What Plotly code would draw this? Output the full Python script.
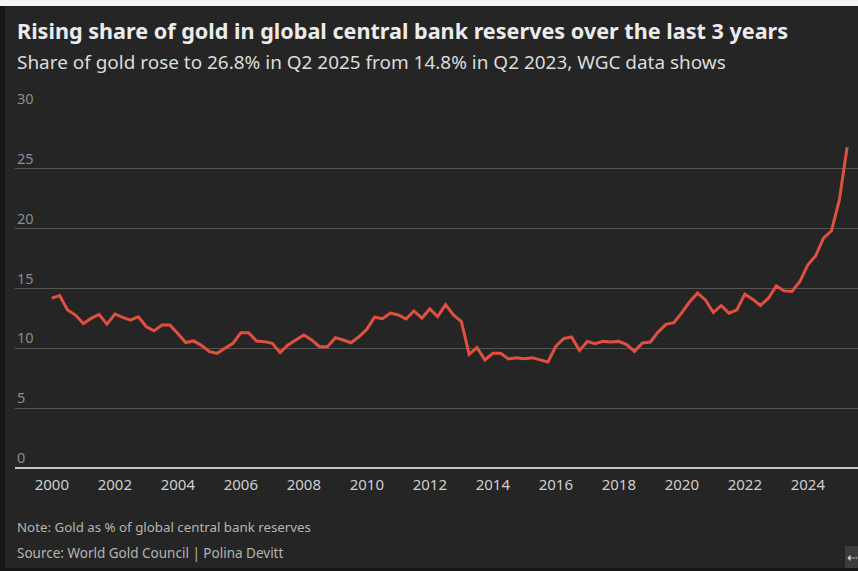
import pandas as pd
import plotly.graph_objects as go

# Gold as % of global central bank reserves, quarterly Q1 2000 .. Q2 2025
gold_share = [
    14.19, 14.41, 13.2, 12.78, 12.08, 12.5, 12.84, 12.02, 12.87, 12.58,
    12.36, 12.64, 11.8, 11.46, 11.94, 11.94, 11.24, 10.48, 10.62, 10.25,
    9.73, 9.58, 10.0, 10.42, 11.31, 11.31, 10.61, 10.56, 10.42, 9.64,
    10.28, 10.7, 11.11, 10.7, 10.14, 10.14, 10.89, 10.7, 10.47, 10.97,
    11.6, 12.6, 12.48, 12.95, 12.79, 12.45, 13.12, 12.53, 13.29, 12.65,
    13.65, 12.79, 12.23, 9.5, 10.06, 9.03, 9.58, 9.58, 9.11, 9.22,
    9.13, 9.22, 9.05, 8.86, 10.17, 10.81, 10.95, 9.83, 10.58, 10.39,
    10.58, 10.53, 10.58, 10.31, 9.75, 10.45, 10.53, 11.36, 12.0, 12.14,
    12.98, 13.89, 14.61, 14.05, 12.99, 13.58, 12.94, 13.22, 14.53, 14.11,
    13.58, 14.19, 15.22, 14.8, 14.75, 15.58, 16.98, 17.73, 19.21, 19.82,
    22.41, 26.8,
]
quarters = pd.date_range("2000-01-01", periods=len(gold_share), freq="QS")
x_tick_years = list(range(2000, 2025, 2))
y_ticks = [0, 5, 10, 15, 20, 25, 30]

title = "Rising share of gold in global central bank reserves over the last 3 years"
subtitle = "Share of gold rose to 26.8% in Q2 2025 from 14.8% in Q2 2023, WGC data shows"
note = "Note: Gold as % of global central bank reserves"
source = "Source: World Gold Council | Polina Devitt"

W, H = 858, 571
TOP, BOT, LEFT = 109, 468, 15
FONT = "Noto Sans"


def py(Y):
    return (BOT - Y) / (BOT - TOP)


fig = go.Figure()
fig.add_trace(go.Scatter(
    x=quarters, y=gold_share, mode="lines",
    line=dict(color="#e0503f", width=3), hoverinfo="skip",
))

annotations = []
for v in y_ticks:
    annotations.append(dict(
        xref="paper", yref="y", x=0, y=v, xanchor="left", yanchor="bottom",
        text=str(v), showarrow=False, yshift=-1,
        font=dict(family=FONT, size=14.5, color="#8c8c8c"),
    ))
annotations += [
    dict(xref="paper", yref="paper", x=0, y=py(30), xanchor="left", yanchor="middle",
         text="<b>" + title + "</b>", showarrow=False,
         font=dict(family=FONT, size=21.6, color="#ececec")),
    dict(xref="paper", yref="paper", x=0, y=py(62), xanchor="left", yanchor="middle",
         text=subtitle, showarrow=False,
         font=dict(family=FONT, size=18.95, color="#dcdcdc")),
    dict(xref="paper", yref="paper", x=0, y=py(527), xanchor="left", yanchor="middle",
         text=note, showarrow=False,
         font=dict(family=FONT, size=13.3, color="#b4b4b4")),
    dict(xref="paper", yref="paper", x=0, y=py(553), xanchor="left", yanchor="middle",
         text=source, showarrow=False,
         font=dict(family=FONT, size=13.5, color="#b4b4b4")),
    dict(xref="paper", yref="paper", x=(852 - LEFT) / (W - LEFT), y=py(557),
         xanchor="center", yanchor="middle", text="⇠", showarrow=False,
         font=dict(family=FONT, size=13, color="#dddddd")),
]

shapes = [
    dict(type="rect", xref="paper", yref="paper", x0=-LEFT / (W - LEFT), x1=(5 - LEFT) / (W - LEFT),
         y0=py(H), y1=py(0), fillcolor="#161616", line=dict(width=0), layer="below"),
    dict(type="rect", xref="paper", yref="paper", x0=-LEFT / (W - LEFT), x1=1,
         y0=py(6), y1=py(0), fillcolor="#f4f4f4", line=dict(width=0), layer="above"),
    dict(type="rect", xref="paper", yref="paper", x0=-LEFT / (W - LEFT), x1=1,
         y0=py(H), y1=py(568), fillcolor="#161616", line=dict(width=0), layer="above"),
    dict(type="rect", xref="paper", yref="paper", x0=(845 - LEFT) / (W - LEFT), x1=1,
         y0=py(568), y1=py(546), fillcolor="#3c3c3c", line=dict(width=0), layer="below"),
]

fig.update_layout(
    width=W, height=H,
    margin=dict(l=LEFT, r=0, t=TOP, b=H - BOT, pad=0),
    paper_bgcolor="#252525", plot_bgcolor="#252525",
    showlegend=False,
    annotations=annotations, shapes=shapes,
    xaxis=dict(
        type="date", range=["1998-10-31", "2025-08-05"],
        tickvals=[pd.Timestamp(f"{y}-01-01") for y in x_tick_years],
        ticktext=[str(y) for y in x_tick_years],
        showgrid=False, zeroline=False, showline=False, ticks="",
        tickfont=dict(family=FONT, size=15, color="#cfcfcf"),
        ticklabelstandoff=6, fixedrange=True,
    ),
    yaxis=dict(
        range=[0, 30], tickvals=y_ticks, showticklabels=False,
        showgrid=True, gridcolor="#555555", gridwidth=1,
        zeroline=True, zerolinecolor="#c4c4c4", zerolinewidth=2,
        showline=False, ticks="", fixedrange=True,
    ),
)

fig.write_html("out.html")
